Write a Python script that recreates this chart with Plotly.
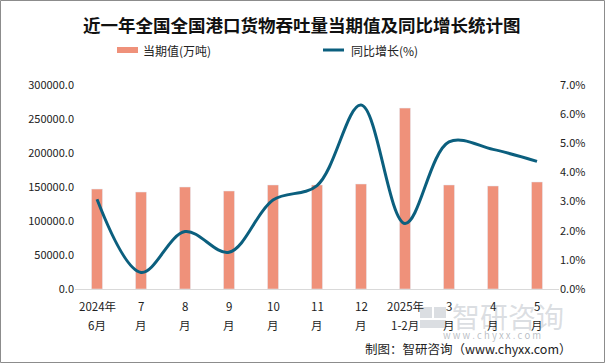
import plotly.graph_objects as go

categories = ["2024年<br>6月", "7<br>月", "8<br>月", "9<br>月", "10<br>月", "11<br>月",
              "12<br>月", "2025年<br>1-2月", "3<br>月", "4<br>月", "5<br>月"]
throughput = [147000, 142600, 150000, 144100, 153000, 153000, 154400, 266000, 153000, 151500, 157400]
yoy_growth = [3.08, 0.57, 1.97, 1.26, 3.05, 3.55, 6.31, 2.25, 5.05, 4.79, 4.38]
left_ticks = [0, 50000, 100000, 150000, 200000, 250000, 300000]
right_ticks = [0, 1, 2, 3, 4, 5, 6, 7]
right_labels = ["0.0%", "1.0%", "2.0%", "3.0%", "4.0%", "5.0%", "6.0%", "7.0%"]

W, H = 605, 363
L, R, T, B = 75, 559, 85, 289

def px(x):
    return (x - L) / (R - L)

def py(y):
    return (B - y) / (B - T)

FONT = "Noto Sans CJK SC, Microsoft YaHei, sans-serif"
BAR_C = "#EF917A"
LINE_C = "#0B5F7E"
WM_C = "rgba(160,168,178,0.38)"

fig = go.Figure()
fig.add_trace(go.Bar(x=categories, y=throughput, name="当期值(万吨)",
                     marker_color=BAR_C, width=0.25, yaxis="y"))
fig.add_trace(go.Scatter(x=categories, y=yoy_growth, name="同比增长(%)", mode="lines",
                         line=dict(color=LINE_C, width=3, shape="spline", smoothing=1.0),
                         yaxis="y2"))

shapes = [
    dict(type="rect", xref="paper", yref="paper", x0=px(117), x1=px(138), y0=py(53), y1=py(47),
         fillcolor=BAR_C, line_width=0),
    dict(type="line", xref="paper", yref="paper", x0=px(323), x1=px(344), y0=py(50), y1=py(50),
         line=dict(color=LINE_C, width=3)),
    dict(type="rect", xref="paper", yref="paper", x0=px(0.5), x1=px(604.5), y0=py(0.5), y1=py(362.5),
         line=dict(color="#8c8c8c", width=1), fillcolor="rgba(0,0,0,0)", layer="below"),
    # watermark logo blocks
    dict(type="rect", xref="paper", yref="paper", x0=px(420), x1=px(432), y0=py(318), y1=py(307),
         fillcolor=WM_C, line_width=0),
    dict(type="rect", xref="paper", yref="paper", x0=px(434), x1=px(446), y0=py(318), y1=py(307),
         fillcolor=WM_C, line_width=0),
    dict(type="rect", xref="paper", yref="paper", x0=px(420), x1=px(446), y0=py(328), y1=py(320),
         fillcolor=WM_C, line_width=0),
]

annotations = [
    dict(text="<b>近一年全国全国港口货物吞吐量当期值及同比增长统计图</b>", x=px(302), y=py(25),
         xref="paper", yref="paper", showarrow=False, font=dict(size=17.5, color="#111", family=FONT),
         xanchor="center", yanchor="middle"),
    dict(text="当期值(万吨)", x=px(141), y=py(51), xref="paper", yref="paper", showarrow=False,
         font=dict(size=12, color="#222", family=FONT), xanchor="left", yanchor="middle"),
    dict(text="同比增长(%)", x=px(349), y=py(51), xref="paper", yref="paper", showarrow=False,
         font=dict(size=12, color="#222", family=FONT), xanchor="left", yanchor="middle"),
    dict(text="智研咨询", x=px(508), y=py(316), xref="paper", yref="paper", showarrow=False,
         font=dict(size=28, color=WM_C, family=FONT), xanchor="center", yanchor="middle"),
    dict(text="w w w . c h y x x . c o m", x=px(492), y=py(335), xref="paper", yref="paper", showarrow=False,
         font=dict(size=9.5, color="rgba(140,148,158,0.6)", family=FONT), xanchor="center", yanchor="middle"),
    dict(text="制图：智研咨询（www.chyxx.com）", x=px(574), y=py(348), xref="paper", yref="paper",
         showarrow=False, font=dict(size=12.5, color="#222", family=FONT), xanchor="right", yanchor="middle"),
]

# category labels drawn as two text lines under each category
for cat in categories:
    top, bottom = cat.split("<br>")
    for txt, ypix in ((top, 306), (bottom, 325)):
        annotations.append(dict(text=txt, x=cat, y=py(ypix), xref="x", yref="paper", showarrow=False,
                                font=dict(size=11.5, color="#222", family=FONT),
                                xanchor="center", yanchor="middle"))

fig.update_layout(
    width=W, height=H,
    margin=dict(l=L, r=W - R, t=T, b=H - B),
    paper_bgcolor="white", plot_bgcolor="white",
    showlegend=False,
    bargap=0.75,
    font=dict(family=FONT, size=11, color="#222"),
    xaxis=dict(type="category", showgrid=False, showline=True, linecolor="#d9d9d9", linewidth=1,
               ticks="", showticklabels=False, fixedrange=True, automargin=False),
    yaxis=dict(range=[0, 300000], tickvals=left_ticks, tickformat=".1f", showgrid=False,
               zeroline=False, showline=False, ticks="", tickfont=dict(size=11), fixedrange=True,
               automargin=False),
    yaxis2=dict(range=[0, 7], tickmode="array", tickvals=right_ticks, ticktext=right_labels,
                overlaying="y", side="right", showgrid=False, zeroline=False, showline=False, ticks="",
                tickfont=dict(size=11), fixedrange=True, automargin=False),
    shapes=shapes,
    annotations=annotations,
)

fig.write_html("out.html", config={"displayModeBar": False, "staticPlot": True},
               post_script="document.body.style.margin='0';document.body.style.overflow='hidden';")
